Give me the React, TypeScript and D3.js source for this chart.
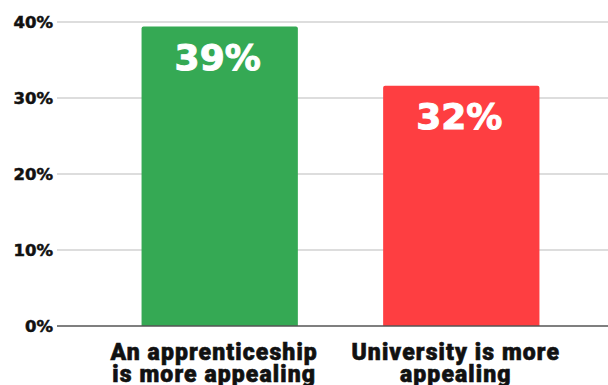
import React from "react";
import * as d3 from "d3";

const categories = ["An apprenticeship is more appealing", "University is more appealing"];
const labelLines = [
  ["An apprenticeship", "is more appealing"],
  ["University is more", "appealing"],
];
const values = [39.4, 31.6];
const valueLabels = ["39%", "32%"];
const colors = ["#35a954", "#fe3e41"];
const yTicks = [0, 10, 20, 30, 40];

const W = 608;
const H = 385;

export default function App() {
  const y = d3.scaleLinear().domain([0, 40]).range([326, 22]);
  const x = d3
    .scaleBand<string>()
    .domain(categories)
    .range([57, 624])
    .paddingInner(0.353)
    .paddingOuter(0.35);
  const bw = x.bandwidth();
  const wide = "'DejaVu Sans', sans-serif";
  const cond = "Roboto, 'Liberation Sans', sans-serif";

  return (
    <svg
      width={W}
      height={H}
      style={{ position: "absolute", left: 0, top: 0, background: "#fff" }}
    >
      {yTicks.map((t) => (
        <g key={t}>
          {t !== 0 && (
            <line x1={57} x2={W} y1={y(t)} y2={y(t)} stroke="#d2d2d2" strokeWidth={1.5} />
          )}
          <text
            x={53}
            y={y(t)}
            dy="0.36em"
            textAnchor="end"
            fontFamily={wide}
            fontWeight={700}
            fontSize={16.5}
            fill="#111"
            stroke="#111"
            strokeWidth={0.5}
          >
            {t}%
          </text>
        </g>
      ))}
      {categories.map((c, i) => {
        const x0 = x(c)!;
        const top = y(values[i]);
        return (
          <g key={c}>
            <path
              d={`M${x0},${y(0)} V${top + 2} Q${x0},${top} ${x0 + 2},${top} H${x0 + bw - 2} Q${x0 + bw},${top} ${x0 + bw},${top + 2} V${y(0)} Z`}
              fill={colors[i]}
            />
            <text
              x={x0 + bw / 2 - 2}
              y={top + 43}
              textAnchor="middle"
              fontFamily={wide}
              fontWeight={700}
              fontSize={36}
              fill="#fff"
              stroke="#fff"
              strokeWidth={1}
            >
              {valueLabels[i]}
            </text>
            {labelLines[i].map((ln, j) => (
              <text
                key={j}
                x={x0 + bw / 2 - 5.5}
                y={360 + j * 22}
                textAnchor="middle"
                fontFamily={cond}
                fontWeight={900}
                fontSize={23}
                letterSpacing={1.1}
                fill="#111"
                stroke="#111"
                strokeWidth={0.6}
              >
                {ln}
              </text>
            ))}
          </g>
        );
      })}
      <line x1={57} x2={W} y1={y(0)} y2={y(0)} stroke="#555" strokeWidth={1.5} />
    </svg>
  );
}
